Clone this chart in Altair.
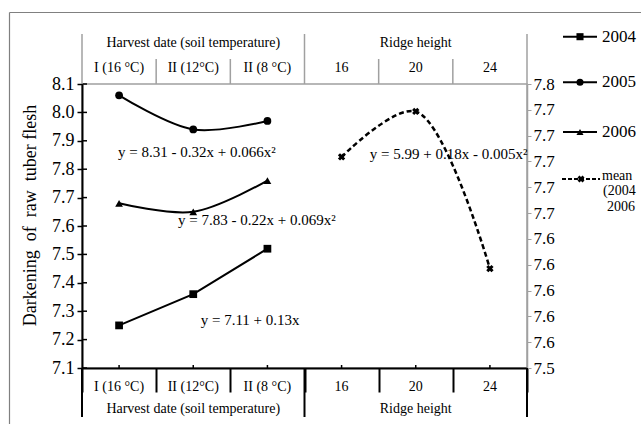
import altair as alt
import pandas as pd

# ---------------- data ----------------
categories = ["I (16 °C)", "II (12°C)", "II (8 °C)", "16", "20", "24"]
harvest = ["I (16 °C)", "II (12°C)", "II (8 °C)"]
ridge = ["16", "20", "24"]
groups = ["Harvest date (soil temperature)", "Ridge height"]
group_mid = ["II (12°C)", "20"]
y2004 = [7.25, 7.36, 7.52]
y2005 = [8.06, 7.94, 7.97]
y2006 = [7.68, 7.65, 7.76]
y_mean = [7.723, 7.771, 7.605]
left_ticks = [7.1, 7.2, 7.3, 7.4, 7.5, 7.6, 7.7, 7.8, 7.9, 8.0, 8.1]
right_tick_labels = ["7.5", "7.6", "7.6", "7.6", "7.6", "7.6",
                     "7.7", "7.7", "7.7", "7.7", "7.7", "7.8"]
eq2004 = "y = 7.11 + 0.13x"
eq2005 = "y = 8.31 - 0.32x + 0.066x²"
eq2006 = "y = 7.83 - 0.22x + 0.069x²"
eq_mean = "y = 5.99 + 0.18x - 0.005x²"
legend_labels = ["2004", "2005", "2006"]
legend_mean = ["mean", "(2004", "2006"]
y_title = "Darkening\u00a0 of\u00a0 raw\u00a0 tuber flesh"

# ---------------- layout ----------------
W, H = 445, 284
FONT = "Liberation Serif"
GRAY = "#a0a0a0"

xscale = alt.Scale(type="band", domain=categories, paddingInner=0, paddingOuter=0)
xaxis = alt.Axis(title=None, labels=False, grid=False, domainColor="black",
                 domainWidth=2, ticks=True, tickBand="extent", tickColor="black",
                 tickWidth=2, tickSize=24)


def X(field, bp=0.5):
    return alt.X(f"{field}:N", scale=xscale, axis=xaxis, bandPosition=bp)


yl_scale = alt.Scale(domain=[7.1, 8.1], nice=False, zero=False)
yl_axis = alt.Axis(values=left_ticks, format=".1f", grid=False,
                   labelFont=FONT, labelFontSize=18, labelColor="black", labelPadding=3,
                   domainColor="black", domainWidth=2, tickColor="black",
                   tickWidth=1.5, tickSize=5,
                   title=y_title, titleFont=FONT, titleFontSize=18,
                   titleFontWeight="normal", titleColor="black", titleAngle=270,
                   titleX=-52, titleY=131, titleAlign="center", titleBaseline="middle")


def YL(field):
    return alt.Y(f"{field}:Q", scale=yl_scale, axis=yl_axis)


r_vals = [round(7.5 + i * 0.3 / 11, 6) for i in range(12)]
labels_js = "[" + ",".join(f"'{s}'" for s in right_tick_labels) + "]"
yr_scale = alt.Scale(domain=[7.5, 7.8], nice=False, zero=False)
yr_axis = alt.Axis(orient="right", values=r_vals,
                   labelExpr=f"{labels_js}[round((datum.value - 7.5) * 11 / 0.3)]",
                   grid=False, title=None, labelFont=FONT, labelFontSize=17,
                   labelColor="black", labelPadding=2, domainColor=GRAY,
                   domainWidth=1.5, tickColor=GRAY, tickSize=4, tickWidth=1)


def YR(field):
    return alt.Y(f"{field}:Q", scale=yr_scale, axis=yr_axis)


one = pd.DataFrame({"a": [0]})
df04 = pd.DataFrame({"cat": harvest, "v": y2004})
df05 = pd.DataFrame({"cat": harvest, "v": y2005})
df06 = pd.DataFrame({"cat": harvest, "v": y2006})
dfm = pd.DataFrame({"cat": ridge, "v": y_mean})
dfcat = pd.DataFrame({"cat": categories})
dfgrp = pd.DataFrame({"cat": group_mid, "label": groups})
dfticks = pd.DataFrame({"t": left_ticks})

left_layers = []


def series(df, shape, interp):
    ln = alt.Chart(df).mark_line(color="black", strokeWidth=2, interpolate=interp).encode(
        x=X("cat"), y=YL("v"))
    pt = alt.Chart(df).mark_point(shape=shape, filled=True, size=60, color="black",
                                  opacity=1).encode(x=X("cat"), y=YL("v"))
    return [ln, pt]


left_layers += series(df04, "square", "linear")
left_layers += series(df05, "circle", "catmull-rom")
left_layers += series(df06, "triangle-up", "catmull-rom")

# equations (left scale)
for txt, cat, bp, yv in [(eq2004, "II (12°C)", 0.60, 7.269),
                         (eq2005, "I (16 °C)", 0.485, 7.862),
                         (eq2006, "II (12°C)", 0.294, 7.621)]:
    d = pd.DataFrame({"cat": [cat], "v": [yv], "t": [txt]})
    left_layers.append(alt.Chart(d).mark_text(align="left", baseline="middle", font=FONT,
                                              fontSize=15, color="black").encode(
        x=X("cat", bp), y=YL("v"), text="t:N"))

# inner half of left axis ticks
left_layers.append(alt.Chart(dfticks).mark_rule(color="black", strokeWidth=1.5).encode(
    y=YL("t"), x=alt.value(0), x2=alt.value(5)))

# small ticks at category centres on the bottom axis
left_layers.append(alt.Chart(dfcat).mark_rule(color="black", strokeWidth=1.5).encode(
    x=X("cat"), y=alt.value(H - 3), y2=alt.value(H)))

# category labels top and bottom
for yy in (-16, H + 18.5):
    left_layers.append(alt.Chart(dfcat).mark_text(font=FONT, fontSize=14, color="black",
                                                  baseline="middle").encode(
        x=X("cat"), y=alt.value(yy), text="cat:N"))
# group labels top and bottom
for yy in (-41, H + 41):
    left_layers.append(alt.Chart(dfgrp).mark_text(font=FONT, fontSize=14, color="black",
                                                  baseline="middle").encode(
        x=X("cat"), y=alt.value(yy), text="label:N"))

# header separators (gray, above plot)
short_sep = pd.DataFrame({"cat": ["II (12°C)", "II (8 °C)", "20", "24"]})
long_sep = pd.DataFrame({"cat": ["I (16 °C)", "16"]})
left_layers.append(alt.Chart(short_sep).mark_rule(color=GRAY, strokeWidth=1.5).encode(
    x=X("cat", 0), y=alt.value(-25), y2=alt.value(0)))
left_layers.append(alt.Chart(long_sep).mark_rule(color=GRAY, strokeWidth=1.5).encode(
    x=X("cat", 0), y=alt.value(-50), y2=alt.value(0)))
left_layers.append(alt.Chart(pd.DataFrame({"cat": ["24"]})).mark_rule(
    color=GRAY, strokeWidth=1.5).encode(x=X("cat", 1), y=alt.value(-50), y2=alt.value(0)))
# bottom long separators (black)
left_layers.append(alt.Chart(long_sep).mark_rule(color="black", strokeWidth=2).encode(
    x=X("cat", 0), y=alt.value(H), y2=alt.value(H + 49)))
left_layers.append(alt.Chart(pd.DataFrame({"cat": ["24"]})).mark_rule(
    color="black", strokeWidth=2).encode(x=X("cat", 1), y=alt.value(H), y2=alt.value(H + 49)))

# outer frame
left_layers.append(alt.Chart(one).mark_rule(color="#808080", strokeWidth=1.2).encode(
    x=alt.value(-72.5), y=alt.value(-71.5), y2=alt.value(H + 80)))
left_layers.append(alt.Chart(one).mark_rule(color="#808080", strokeWidth=1.2).encode(
    x=alt.value(-72.5), x2=alt.value(W + 130), y=alt.value(-71.5)))

# legend
leg_y = [-47.3, -1.7, 48]
leg_shapes = ["square", "circle", "triangle-up"]
for lab, ly, shp in zip(legend_labels, leg_y, leg_shapes):
    left_layers.append(alt.Chart(one).mark_rule(color="black", strokeWidth=2).encode(
        x=alt.value(481), x2=alt.value(515), y=alt.value(ly)))
    left_layers.append(alt.Chart(one).mark_point(shape=shp, filled=True, size=50,
                                                 color="black", opacity=1).encode(
        x=alt.value(498), y=alt.value(ly)))
    left_layers.append(alt.Chart(one).mark_text(align="left", baseline="middle", font=FONT,
                                                fontSize=17, color="black").encode(
        x=alt.value(520), y=alt.value(ly), text=alt.value(lab)))
left_layers.append(alt.Chart(one).mark_rule(color="black", strokeWidth=2,
                                            strokeDash=[4, 2]).encode(
    x=alt.value(480), x2=alt.value(518), y=alt.value(95)))
left_layers.append(alt.Chart(one).mark_point(shape="cross", angle=45, filled=True, size=50,
                                             color="black", opacity=1).encode(
    x=alt.value(499), y=alt.value(95)))
for lab, dx, ly in zip(legend_mean, [520, 521, 525], [91.5, 107, 122.5]):
    left_layers.append(alt.Chart(one).mark_text(align="left", baseline="middle", font=FONT,
                                                fontSize=14, color="black").encode(
        x=alt.value(dx), y=alt.value(ly), text=alt.value(lab)))

left = alt.layer(*left_layers)

# right-scale group: mean of years over ridge height
mean_line = alt.Chart(dfm).mark_line(color="black", strokeWidth=2.5, strokeDash=[5, 3],
                                     interpolate="catmull-rom").encode(
    x=X("cat"), y=YR("v"))
mean_pts = alt.Chart(dfm).mark_point(shape="cross", angle=45, filled=True, size=55,
                                     color="black", opacity=1).encode(
    x=X("cat"), y=YR("v"))
mean_eq = alt.Chart(pd.DataFrame({"cat": ["16"], "v": [7.726], "t": [eq_mean]})).mark_text(
    align="left", baseline="middle", font=FONT, fontSize=15, color="black").encode(
    x=X("cat", 0.88), y=YR("v"), text="t:N")
right = alt.layer(mean_line, mean_pts, mean_eq)

chart = alt.layer(left, right).resolve_scale(y="independent").properties(
    width=W, height=H,
    autosize=alt.AutoSizeParams(type="none"),
    padding={"left": 82, "top": 84, "right": 641 - 82 - W, "bottom": 424 - 84 - H},
    background="white",
).configure_view(stroke=GRAY, strokeWidth=1.5)

chart.save("out.html", embed_options={"renderer": "svg", "actions": False})
